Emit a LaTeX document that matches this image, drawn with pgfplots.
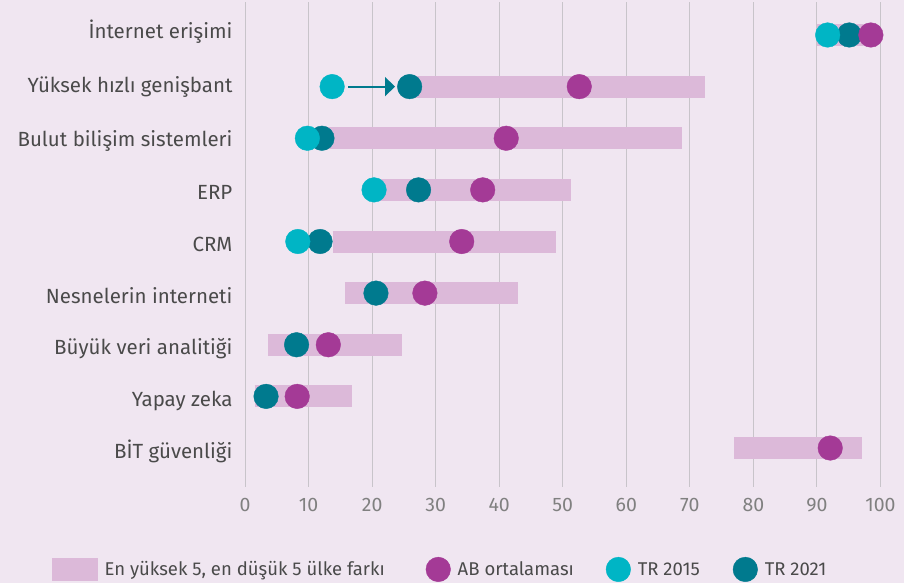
\documentclass[border=0pt]{standalone}
\usepackage{fontspec}
\setmainfont{Fira Sans}
\usepackage{pgfplots}
\usepackage{pgfplotstable}
\pgfplotsset{compat=1.18}
\usetikzlibrary{arrows.meta}
\definecolor{bg}{HTML}{F0E6F1}
\definecolor{pinkbar}{HTML}{DCB9D9}
\definecolor{abc}{HTML}{A43A96}
\definecolor{trA}{HTML}{00B5C5}
\definecolor{trB}{HTML}{007A8E}
\definecolor{txt}{HTML}{4A4A4A}
\definecolor{ticktxt}{HTML}{808080}
\definecolor{grd}{HTML}{C8C4CA}

\pgfplotstableread{
y v
9 98.5
8 52.6
7 41.1
6 37.4
5 34.1
4 28.3
3 13.1
2 8.2
1 92.1
}\abtable
\pgfplotstableread{
y v
9 91.7
8 13.7
7 9.8
6 20.3
5 8.3
}\trAtable
\pgfplotstableread{
y v
9 95.1
8 25.9
7 12.1
6 27.3
5 11.8
4 20.6
3 8.1
2 3.3
}\trBtable

\begin{document}
\begin{tikzpicture}[x=1pt,y=1pt]
\fill[bg] (0,0) rectangle (904,583);
\begin{axis}[
  at={(245.1pt,96pt)}, anchor=south west,
  scale only axis, width=635.3pt, height=485pt,
  xmin=0, xmax=100, ymin=0.245, ymax=9.639,
  axis line style={draw=none},
  xtick={0,10,...,100},
  xmajorgrids, major grid style={grd, line width=1.2pt},
  major tick length=0pt,
  ytick={1,...,9},
  yticklabels={BİT güvenliği, Yapay zeka, Büyük veri analitiği, Nesnelerin interneti, CRM, ERP, \raisebox{1.5pt}{Bulut bilişim sistemleri}, \raisebox{4pt}{Yüksek hızlı genişbant}, \raisebox{6pt}{İnternet erişimi}},
  yticklabel style={anchor=base east, inner sep=0pt, xshift=-12.5pt, yshift=-10pt, font=\fontsize{20.5}{24}\selectfont, text=txt},
  xticklabel style={anchor=base, inner sep=0pt, yshift=-25pt, font=\fontsize{19.5}{23}\selectfont, text=ticktxt},
  /pgf/number format/assume math mode=true,
  clip=false,
  legend columns=4,
  legend style={at={(axis description cs:-0.304,-0.17)}, anchor=west, draw=none, fill=none, inner sep=0pt,
    font=\fontsize{18.5}{22}\selectfont, text=txt,
    /tikz/every odd column/.append style={column sep=5pt},
    /tikz/every even column/.append style={column sep=26pt}},
  legend cell align=left,
]
% ranges
\addplot[pinkbar, line width=22pt, forget plot] coordinates {(90,9) (99,9)};
\addplot[pinkbar, line width=22pt, forget plot] coordinates {(26,8) (72.4,8)};
\addplot[pinkbar, line width=22pt, forget plot] coordinates {(12.5,7) (68.8,7)};
\addplot[pinkbar, line width=22pt, forget plot] coordinates {(20.5,6) (51.3,6)};
\addplot[pinkbar, line width=22pt, forget plot] coordinates {(13.8,5) (48.9,5)};
\addplot[pinkbar, line width=22pt, forget plot] coordinates {(15.7,4) (42.9,4)};
\addplot[pinkbar, line width=22pt, forget plot] coordinates {(3.6,3) (24.7,3)};
\addplot[pinkbar, line width=22pt, forget plot] coordinates {(1.5,2) (16.8,2)};
\addplot[pinkbar, line width=22pt, forget plot] coordinates {(77,1) (97.1,1)};
% arrow
\addplot[trB, line width=1.8pt, -{Triangle[length=10pt,width=19pt]}, forget plot] coordinates {(16.2,8) (23.6,8)};
% dots
\addplot[only marks, mark=*, mark size=12.3pt, trB, forget plot] table[x=v,y=y] {\trBtable};
\addplot[only marks, mark=*, mark size=12.3pt, trA, forget plot] table[x=v,y=y] {\trAtable};
\addplot[only marks, mark=*, mark size=12.3pt, abc, forget plot] table[x=v,y=y] {\abtable};
% legend
\addlegendimage{legend image code/.code={\fill[pinkbar] (0pt,-11pt) rectangle (45pt,11pt);}}
\addlegendentry{En yüksek 5, en düşük 5 ülke farkı\hspace*{13pt}}
\addlegendimage{legend image code/.code={\fill[abc] (12pt,0pt) circle (12.3pt);}}
\addlegendentry{AB ortalaması\hspace*{4pt}}
\addlegendimage{legend image code/.code={\fill[trA] (12pt,0pt) circle (12.3pt);}}
\addlegendentry{TR 2015\hspace*{5pt}}
\addlegendimage{legend image code/.code={\fill[trB] (12pt,0pt) circle (12.3pt);}}
\addlegendentry{TR 2021}
\end{axis}
\end{tikzpicture}
\end{document}
